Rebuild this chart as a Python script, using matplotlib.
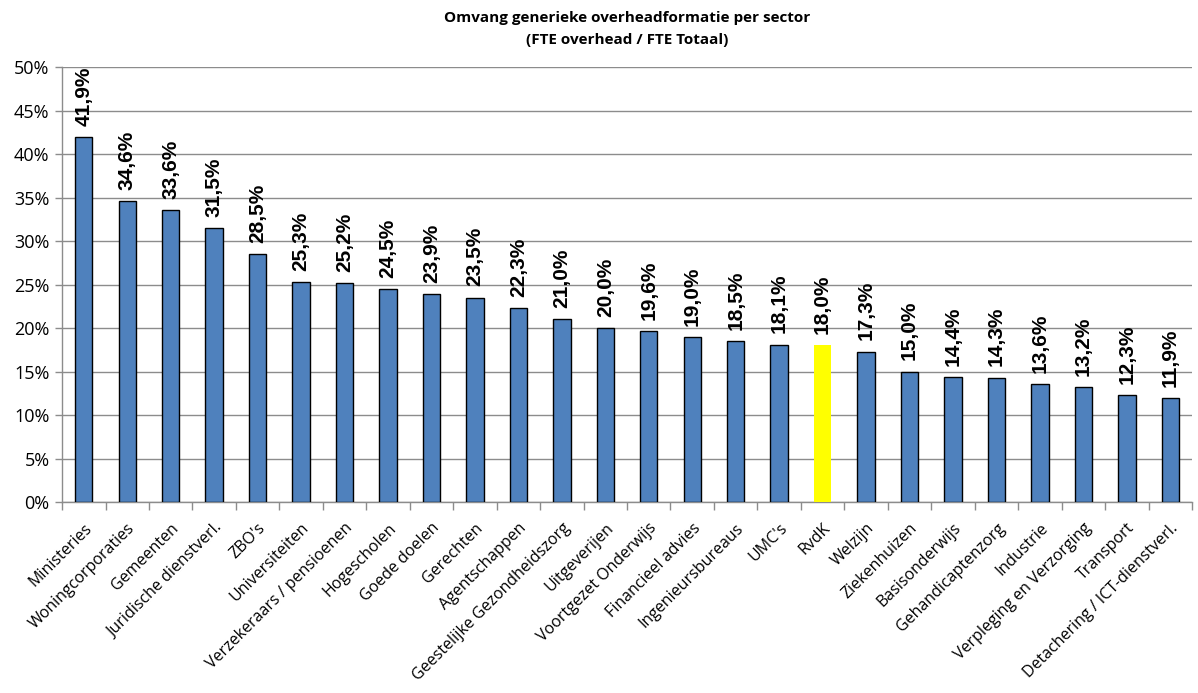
import matplotlib
matplotlib.use("Agg")
import matplotlib.pyplot as plt
import numpy as np
from matplotlib.ticker import FuncFormatter, FixedLocator

sectors = [
    "Ministeries", "Woningcorporaties", "Gemeenten", "Juridische dienstverl.",
    "ZBO's", "Universiteiten", "Verzekeraars / pensioenen", "Hogescholen",
    "Goede doelen", "Gerechten", "Agentschappen", "Geestelijke Gezondheidszorg",
    "Uitgeverijen", "Voortgezet Onderwijs", "Financieel advies",
    "Ingenieursbureaus", "UMC's", "RvdK", "Welzijn", "Ziekenhuizen",
    "Basisonderwijs", "Gehandicaptenzorg", "Industrie",
    "Verpleging en Verzorging", "Transport", "Detachering / ICT-dienstverl.",
]
overhead_pct = [
    41.9, 34.6, 33.6, 31.5, 28.5, 25.3, 25.2, 24.5, 23.9, 23.5, 22.3, 21.0,
    20.0, 19.6, 19.0, 18.5, 18.1, 18.0, 17.3, 15.0, 14.4, 14.3, 13.6, 13.2,
    12.3, 11.9,
]
highlight = "RvdK"

values = np.array(overhead_pct) / 100.0
x = np.arange(len(sectors))

fig = plt.figure(figsize=(11.98, 6.93), dpi=100)
ax = fig.add_axes([0.0518, 0.2756, 0.9432, 0.6277])

blue = "#4F81BD"
yellow = "#FFFF00"
colors = [yellow if s == highlight else blue for s in sectors]
edges = ["none" if s == highlight else "black" for s in sectors]

ax.set_axisbelow(True)
ax.yaxis.grid(True, color="#8c8c8c", linewidth=1.0)
bars = ax.bar(x, values, width=0.4, color=colors, edgecolor=edges, linewidth=1.0, zorder=3)

for xi, v in zip(x, overhead_pct):
    ax.annotate(f"{v:.1f}%".replace(".", ","), xy=(xi, v / 100.0), xytext=(0, 8),
                textcoords="offset points", rotation=90, ha="center", va="bottom",
                fontsize=15, fontweight="bold", family="Liberation Sans", zorder=4)

ax.set_xlim(-0.5, len(sectors) - 0.5)
ax.set_ylim(0, 0.5)
ax.set_yticks(np.arange(0, 0.51, 0.05))
ax.yaxis.set_major_formatter(FuncFormatter(lambda v, p: f"{round(v * 100):d}%"))

ax.set_xticks(x)
ax.set_xticklabels(sectors, rotation=45, ha="right", rotation_mode="anchor",
                   fontsize=11.5, family="Open Sans")
ax.tick_params(axis="x", length=0, pad=13)
ax.xaxis.set_minor_locator(FixedLocator(np.arange(-0.5, len(sectors), 1.0)))
ax.tick_params(axis="x", which="minor", length=6, color="#8c8c8c", width=1)
ax.tick_params(axis="y", length=5, color="#8c8c8c", width=1, labelsize=13, pad=4)
for lbl in ax.get_yticklabels():
    lbl.set_family("Open Sans")

for side in ("top", "right"):
    ax.spines[side].set_visible(False)
for side in ("left", "bottom"):
    ax.spines[side].set_color("#8c8c8c")
    ax.spines[side].set_linewidth(1.0)

fig.text(0.5235, 0.958, "Omvang generieke overheadformatie per sector\n(FTE overhead / FTE Totaal)",
         ha="center", va="center", fontsize=11, fontweight="bold", family="Open Sans",
         linespacing=1.75)

fig.savefig("out.png", dpi=100)
